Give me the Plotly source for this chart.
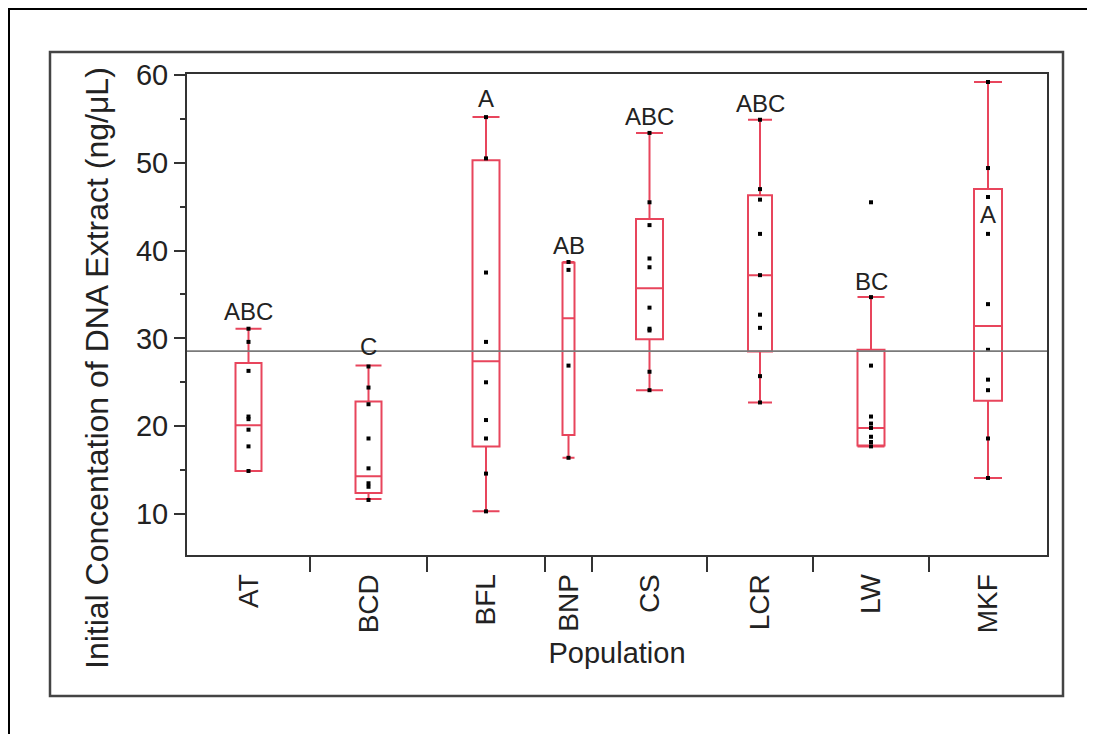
import plotly.graph_objects as go

# ---------------- data ----------------
populations = ["AT", "BCD", "BFL", "BNP", "CS", "LCR", "LW", "MKF"]

at_values = [31.1, 29.6, 26.3, 21.1, 20.8, 19.6, 17.7, 14.9]
bcd_values = [26.8, 24.4, 22.5, 18.6, 15.2, 13.5, 13.1, 11.6]
bfl_values = [55.2, 50.5, 37.5, 29.6, 25.0, 20.7, 18.6, 14.6, 10.3]
bnp_values = [38.7, 37.8, 26.9, 16.4]
cs_values = [53.4, 45.5, 42.9, 39.1, 38.1, 33.5, 31.1, 30.9, 26.2, 24.1]
lcr_values = [54.9, 47.0, 45.8, 41.9, 37.2, 32.7, 31.2, 25.7, 22.7]
lw_values = [45.5, 34.7, 26.9, 21.1, 20.3, 19.8, 18.8, 18.2, 17.7]
mkf_values = [59.2, 49.4, 46.1, 41.9, 33.9, 28.7, 25.3, 24.1, 18.6, 14.1]

# box statistics
q1_values = [14.9, 12.4, 17.7, 19.0, 29.9, 28.5, 17.8, 22.9]
median_values = [20.1, 14.3, 27.4, 32.3, 35.7, 37.2, 19.8, 31.4]
q3_values = [27.2, 22.8, 50.3, 38.6, 43.6, 46.3, 28.7, 47.0]
lower_whisker = [14.9, 11.7, 10.3, 16.4, 24.1, 22.7, 17.7, 14.1]
upper_whisker = [31.1, 26.9, 55.2, 38.7, 53.4, 54.9, 34.7, 59.2]

grand_mean = 28.55

group_letters = ["ABC", "C", "A", "AB", "ABC", "ABC", "BC", "A"]

all_values = [at_values, bcd_values, bfl_values, bnp_values,
              cs_values, lcr_values, lw_values, mkf_values]

# ---------------- layout constants ----------------
cat_widths = [123, 117, 118, 47, 115, 106, 116, 118]   # JMP variable-width categories
box_widths = [26, 26, 27, 12, 27, 24, 27, 28]
letter_y = [33.1, 29.1, 57.3, 40.6, 55.3, 56.8, 36.5, 44.1]

bounds = [0]
for w in cat_widths:
    bounds.append(bounds[-1] + w)
centers = [(bounds[i] + bounds[i + 1]) / 2 for i in range(len(cat_widths))]

OFF = 8                      # browser body margin
W, H = 1095 - OFF, 734 - OFF
PL, PR, PT, PB = 187, 1047, 74, 555   # plot area in window pixels


def px(x):
    return (x - PL) / (PR - PL)


def py(y):
    return (PB - y) / (PB - PT)


RED = "#e8455c"
DARK = "#333333"
FONT = "Liberation Sans, Arial, sans-serif"

fig = go.Figure()

for i, name in enumerate(populations):
    fig.add_trace(go.Box(
        x=[centers[i]],
        q1=[q1_values[i]], median=[median_values[i]], q3=[q3_values[i]],
        lowerfence=[lower_whisker[i]], upperfence=[upper_whisker[i]],
        width=box_widths[i], whiskerwidth=1,
        line=dict(color=RED, width=2),
        fillcolor="rgba(255,255,255,0)",
        boxpoints=False, name=name, showlegend=False,
    ))

for i, name in enumerate(populations):
    vals = all_values[i]
    fig.add_trace(go.Scatter(
        x=[centers[i]] * len(vals), y=vals, mode="markers",
        marker=dict(symbol="square", size=4, color="black"),
        name=name, showlegend=False,
    ))

# grand mean line
fig.add_shape(type="line", xref="paper", yref="y", x0=0, x1=1,
              y0=grand_mean, y1=grand_mean,
              line=dict(color="#7a7a7a", width=1.8))

# letters
for i, lab in enumerate(group_letters):
    fig.add_annotation(x=centers[i], y=letter_y[i], text=lab, showarrow=False,
                       font=dict(family=FONT, size=24, color="#222222"),
                       xanchor="center", yanchor="middle")

# y-axis title
fig.add_annotation(xref="paper", yref="paper", x=px(97), y=py(368),
                   text="Initial Concentation of DNA Extract (ng/\u03bcL)",
                   textangle=-90, showarrow=False,
                   font=dict(family=FONT, size=32, color="#222222"),
                   xanchor="center", yanchor="middle")

# frames
fig.add_shape(type="rect", xref="paper", yref="paper",
              x0=px(9), x1=px(1110), y0=py(745), y1=py(9),
              line=dict(color="black", width=2), layer="below")
fig.add_shape(type="rect", xref="paper", yref="paper",
              x0=px(50), x1=px(1063), y0=py(696), y1=py(52),
              line=dict(color="#444444", width=2.5), layer="below")

fig.update_layout(
    width=W, height=H,
    margin=dict(l=PL - OFF, r=1095 - PR, t=PT - OFF, b=734 - PB,
                autoexpand=False),
    paper_bgcolor="white", plot_bgcolor="white",
    font=dict(family=FONT, color="#222222"),
    showlegend=False,
)

fig.update_xaxes(
    range=[0, bounds[-1]],
    tickmode="array", tickvals=centers, ticktext=populations,
    tickangle=-90, tickfont=dict(size=28),
    ticks="outside", ticklen=6, tickcolor="rgba(0,0,0,0)",
    minor=dict(tickmode="array", tickvals=bounds[1:-1], ticks="outside",
               ticklen=15, tickcolor=DARK, tickwidth=1.5, showgrid=False),
    showline=True, linecolor=DARK, linewidth=2, mirror=True,
    showgrid=False, zeroline=False,
    title=dict(text="Population", font=dict(size=29), standoff=10),
)

fig.update_yaxes(
    range=[5.33, 60.11],
    tickmode="array", tickvals=[10, 20, 30, 40, 50, 60],
    tickfont=dict(size=29),
    ticks="outside", ticklen=11, tickcolor=DARK, tickwidth=1.5,
    minor=dict(tickmode="array", tickvals=[5, 15, 25, 35, 45, 55],
               ticks="outside", ticklen=5, tickcolor=DARK, tickwidth=1.5,
               showgrid=False),
    showline=True, linecolor=DARK, linewidth=2, mirror=True,
    showgrid=False, zeroline=False,
)

fig.write_html("out.html")
